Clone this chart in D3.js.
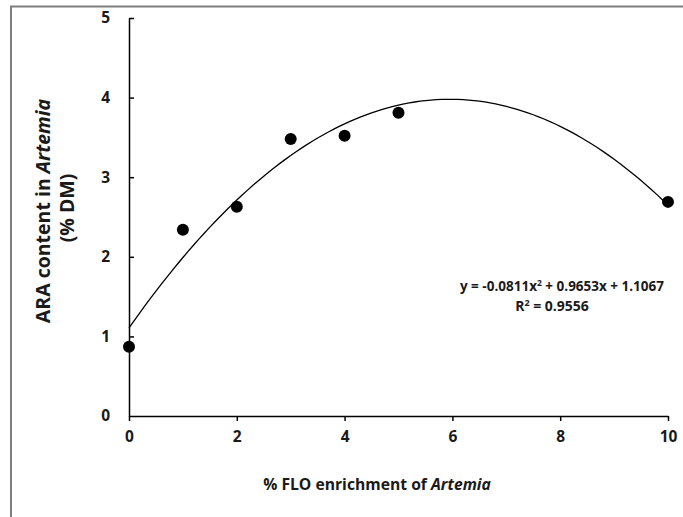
<!DOCTYPE html>
<html>
<head>
  <meta charset="utf-8">
  <title>ARA content vs FLO enrichment</title>
  <script src="https://cdn.jsdelivr.net/npm/d3@7/dist/d3.min.js"></script>
  <style>
    body { margin: 0; background: #fff; }
    text { font-family: "Open Sans", Lato, sans-serif; font-weight: bold; fill: #1a1a1a; }
  </style>
</head>
<body>
  <svg width="683" height="517"></svg>
  <script>
    // data
    const flo = [0, 1, 2, 3, 4, 5, 10];
    const ara = [0.87, 2.34, 2.63, 3.48, 3.52, 3.81, 2.69];
    const xTicks = [0, 2, 4, 6, 8, 10];
    const yTicks = [0, 1, 2, 3, 4, 5];
    // trendline coefficients as printed on the chart
    const coef = [-0.0811, 0.9653, 1.1067];

    const svg = d3.select('svg');
    const width = +svg.attr('width');
    const height = +svg.attr('height');

    svg.append('rect').attr('width', width).attr('height', height).attr('fill', '#fff');

    // outer frame, runs past the right and bottom edge
    svg.append('rect')
      .attr('x', 11).attr('y', 6.5)
      .attr('width', 720).attr('height', 600)
      .attr('fill', 'none')
      .attr('stroke', '#7f7f7f')
      .attr('stroke-width', 2);

    const x = d3.scaleLinear().domain([0, 10]).range([129, 668]);
    const y = d3.scaleLinear().domain([0, 5]).range([416, 18]);

    const xAxis = svg.append('g')
      .attr('transform', `translate(0,${y(0)})`)
      .call(d3.axisBottom(x).tickValues(xTicks).tickFormat(d3.format('d'))
        .tickSizeInner(5).tickSizeOuter(0).tickPadding(10));

    const yAxis = svg.append('g')
      .attr('transform', `translate(${x(0)},0)`)
      .call(d3.axisLeft(y).tickValues(yTicks).tickFormat(d3.format('d'))
        .tickSizeInner(-5).tickSizeOuter(0).tickPadding(19));

    [xAxis, yAxis].forEach(g => {
      g.select('.domain').attr('stroke', '#000').attr('stroke-width', 1.5);
      g.selectAll('.tick line').attr('stroke', '#000').attr('stroke-width', 1.5);
      g.selectAll('.tick text')
        .style('font-family', '"Open Sans", Lato, sans-serif')
        .style('font-weight', 'bold')
        .style('font-size', '15.5px')
        .attr('fill', '#1a1a1a');
    });
    yAxis.selectAll('.tick line').filter(d => d === 0).remove();

    // trendline
    const poly = v => coef[0] * v * v + coef[1] * v + coef[2];
    const curve = d3.range(0, 10.001, 0.1).map(v => [v, poly(v)]);
    svg.append('path')
      .datum(curve)
      .attr('fill', 'none')
      .attr('stroke', '#000')
      .attr('stroke-width', 1.3)
      .attr('d', d3.line().x(d => x(d[0])).y(d => y(d[1])));

    // points
    svg.selectAll('.dot')
      .data(flo.map((v, i) => [v, ara[i]]))
      .enter()
      .append('circle')
      .attr('class', 'dot')
      .attr('cx', d => x(d[0]))
      .attr('cy', d => y(d[1]))
      .attr('r', 6)
      .attr('fill', '#000');

    // equation
    const eq = svg.append('text')
      .attr('x', 664).attr('y', 291)
      .attr('text-anchor', 'end')
      .style('font-size', '13.5px');
    eq.append('tspan').text('y = -0.0811x');
    eq.append('tspan').attr('dy', -5).style('font-size', '8.5px').text('2');
    eq.append('tspan').attr('dy', 5).text(' + 0.9653x + 1.1067');

    const r2 = svg.append('text')
      .attr('x', 552).attr('y', 311)
      .attr('text-anchor', 'middle')
      .style('font-size', '14px');
    r2.append('tspan').text('R');
    r2.append('tspan').attr('dy', -5).style('font-size', '9px').text('2');
    r2.append('tspan').attr('dy', 5).text(' = 0.9556');

    // axis titles
    const xt = svg.append('text')
      .attr('x', 377).attr('y', 490)
      .attr('text-anchor', 'middle')
      .style('font-size', '15.7px');
    xt.append('tspan').text('% FLO enrichment of ');
    xt.append('tspan').style('font-style', 'italic').text('Artemia');

    const yt = svg.append('text')
      .attr('transform', 'translate(50,211) rotate(-90)')
      .attr('text-anchor', 'middle')
      .style('font-size', '19.5px');
    yt.append('tspan').text('ARA content in ');
    yt.append('tspan').style('font-style', 'italic').text('Artemia');

    svg.append('text')
      .attr('transform', 'translate(74,208) rotate(-90)')
      .attr('text-anchor', 'middle')
      .style('font-size', '19.5px')
      .text('(% DM)');
  </script>
</body>
</html>
